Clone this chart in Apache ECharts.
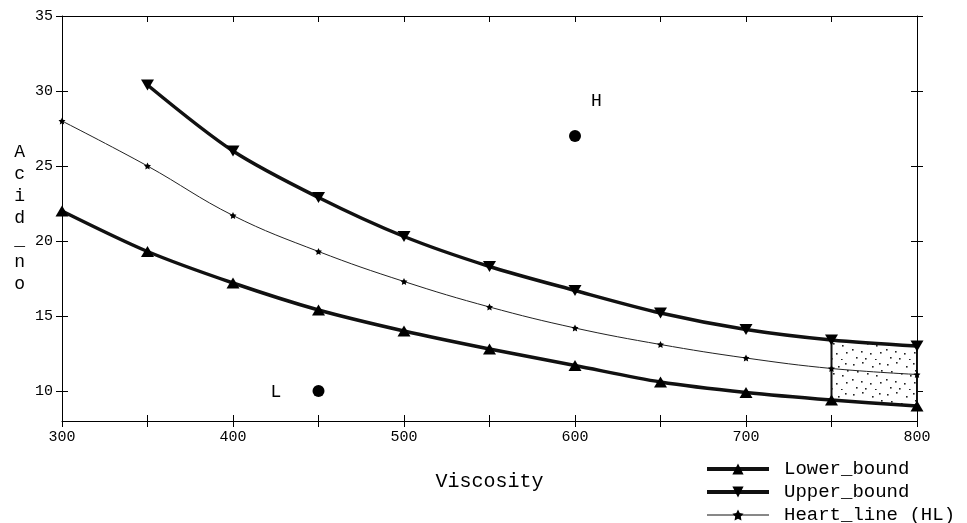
<!DOCTYPE html>
<html>
<head>
<meta charset="utf-8">
<script src="https://cdn.jsdelivr.net/npm/echarts@6/dist/echarts.min.js"></script>
<style>
  html, body { margin: 0; padding: 0; background: #fff; }
  #chart { width: 967px; height: 523px; }
</style>
</head>
<body>
<div id="chart"></div>
<script>
// data
var viscosity = [300, 350, 400, 450, 500, 550, 600, 650, 700, 750, 800];
var lowerBound = [22.0, 19.3, 17.2, 15.4, 14.0, 12.8, 11.7, 10.6, 9.9, 9.4, 9.0];
var upperBound = [null, 30.4, 26.0, 22.9, 20.3, 18.3, 16.7, 15.2, 14.1, 13.4, 13.0];
var heartLine = [28.0, 25.0, 21.7, 19.3, 17.3, 15.6, 14.2, 13.1, 12.2, 11.5, 11.1];

var pointNames = ['L', 'H'];
var pointX = [450, 600];
var pointY = [10, 27];

var boxRange = [750, 800];

var xTicks = [300, 350, 400, 450, 500, 550, 600, 650, 700, 750, 800];
var xLabels = [300, 400, 500, 600, 700, 800];
var yTicks = [10, 15, 20, 25, 30, 35];

var FONT = '"Liberation Mono", "DejaVu Sans Mono", monospace';

// stipple texture for the box
function makeStipple() {
  var c = document.createElement('canvas');
  c.width = 34; c.height = 30;
  var ctx = c.getContext('2d');
  ctx.fillStyle = '#fff';
  ctx.fillRect(0, 0, 34, 30);
  ctx.fillStyle = '#222';
  var dots = [[3, 4], [12, 2], [22, 6], [29, 3], [7, 11], [17, 13], [26, 15], [2, 19],
              [11, 21], [20, 23], [30, 22], [6, 27], [15, 28], [25, 29], [31, 10]];
  dots.forEach(function (d) { ctx.fillRect(d[0], d[1], 1.6, 1.6); });
  return c;
}
var stipple = makeStipple();

var star = 'path://M0,-10L2.9,-4L9.5,-3.1L4.7,1.5L5.9,8.1L0,5L-5.9,8.1L-4.7,1.5L-9.5,-3.1L-2.9,-4Z';

function pairs(ys) {
  return viscosity.map(function (x, i) { return [x, ys[i]]; });
}

var myChart = echarts.init(document.getElementById('chart'));

var gridRect = { left: 62, right: 50, top: 16, bottom: 102 };
var axisLine = { show: true, lineStyle: { color: '#000', width: 1 } };

var option = {
  backgroundColor: '#fff',
  animation: false,
  textStyle: { fontFamily: FONT, color: '#000' },
  grid: [
    Object.assign({}, gridRect),
    Object.assign({}, gridRect)
  ],
  legend: {
    data: [
      { name: 'Lower_bound', lineStyle: { width: 4, color: '#111' } },
      { name: 'Upper_bound', lineStyle: { width: 4, color: '#111' } },
      { name: 'Heart_line (HL)', lineStyle: { width: 1, color: '#111' } }
    ],
    orient: 'vertical',
    left: 705,
    top: 459,
    height: 90,
    padding: 0,
    itemWidth: 62,
    itemHeight: 14,
    itemGap: 3,
    textStyle: { fontFamily: FONT, fontSize: 19, lineHeight: 20, color: '#000', padding: [0, 0, 0, 10] }
  },
  xAxis: [
    {
      type: 'value', gridIndex: 0, position: 'bottom', min: 300, max: 800,
      name: 'Viscosity', nameLocation: 'middle', nameGap: 51,
      nameTextStyle: { fontFamily: FONT, fontSize: 20, color: '#000' },
      axisLine: axisLine,
      axisTick: { show: true, customValues: xTicks, length: 6, lineStyle: { color: '#000' } },
      axisLabel: { customValues: xLabels, fontFamily: FONT, fontSize: 15, color: '#000', margin: 9 },
      splitLine: { show: false }
    },
    {
      type: 'value', gridIndex: 0, position: 'top', min: 300, max: 800,
      axisLine: axisLine,
      axisTick: { show: true, inside: true, customValues: xTicks, length: 6, lineStyle: { color: '#000' } },
      axisLabel: { show: false },
      splitLine: { show: false }
    },
    {
      type: 'value', gridIndex: 1, position: 'bottom', min: 300, max: 800,
      axisLine: { show: false },
      axisTick: { show: true, inside: true, customValues: xTicks, length: 6, lineStyle: { color: '#000' } },
      axisLabel: { show: false },
      splitLine: { show: false }
    }
  ],
  yAxis: [
    {
      type: 'value', gridIndex: 0, position: 'left', min: 8, max: 35,
      name: 'A\nc\ni\nd\n_\nn\no', nameLocation: 'middle', nameRotate: 0, nameGap: 37,
      nameTextStyle: { fontFamily: FONT, fontSize: 18, lineHeight: 22, color: '#000' },
      axisLine: axisLine,
      axisTick: { show: true, customValues: yTicks, length: 6, lineStyle: { color: '#000' } },
      axisLabel: { customValues: yTicks, fontFamily: FONT, fontSize: 15, color: '#000', margin: 9 },
      splitLine: { show: false }
    },
    {
      type: 'value', gridIndex: 0, position: 'right', min: 8, max: 35,
      axisLine: axisLine,
      axisTick: { show: true, customValues: yTicks, length: 6, lineStyle: { color: '#000' } },
      axisLabel: { show: false },
      splitLine: { show: false }
    },
    {
      type: 'value', gridIndex: 1, position: 'left', min: 8, max: 35,
      axisLine: { show: false },
      axisTick: { show: true, inside: true, customValues: yTicks, length: 6, lineStyle: { color: '#000' } },
      axisLabel: { show: false },
      splitLine: { show: false }
    },
    {
      type: 'value', gridIndex: 1, position: 'right', min: 8, max: 35,
      axisLine: { show: false },
      axisTick: { show: true, inside: true, customValues: yTicks, length: 6, lineStyle: { color: '#000' } },
      axisLabel: { show: false },
      splitLine: { show: false }
    }
  ],
  series: [
    {
      name: 'box',
      type: 'custom',
      xAxisIndex: 0, yAxisIndex: 0,
      z: 1,
      silent: true,
      data: [boxRange],
      renderItem: function (params, api) {
        var i0 = viscosity.indexOf(boxRange[0]);
        var i1 = viscosity.indexOf(boxRange[1]);
        var pts = [
          api.coord([boxRange[0], lowerBound[i0]]),
          api.coord([boxRange[1], lowerBound[i1]]),
          api.coord([boxRange[1], upperBound[i1]]),
          api.coord([boxRange[0], upperBound[i0]])
        ];
        return {
          type: 'group',
          children: [
            {
              type: 'polygon',
              shape: { points: pts },
              style: { fill: { image: stipple, repeat: 'repeat' }, stroke: null }
            },
            {
              type: 'line',
              shape: { x1: pts[0][0], y1: pts[0][1], x2: pts[3][0], y2: pts[3][1] },
              style: { stroke: '#111', lineWidth: 2 }
            },
            {
              type: 'line',
              shape: { x1: pts[1][0], y1: pts[1][1], x2: pts[2][0], y2: pts[2][1] },
              style: { stroke: '#111', lineWidth: 2 }
            }
          ]
        };
      }
    },
    {
      name: 'Lower_bound',
      type: 'line',
      xAxisIndex: 0, yAxisIndex: 0,
      z: 3,
      smooth: 0.3,
      data: pairs(lowerBound),
      symbol: 'triangle',
      symbolSize: [13, 11],
      lineStyle: { color: '#111', width: 3.5 },
      itemStyle: { color: '#000' }
    },
    {
      name: 'Upper_bound',
      type: 'line',
      xAxisIndex: 0, yAxisIndex: 0,
      z: 3,
      smooth: 0.3,
      data: pairs(upperBound),
      symbol: 'triangle',
      symbolRotate: 180,
      symbolSize: [13, 11],
      lineStyle: { color: '#111', width: 3.5 },
      itemStyle: { color: '#000' }
    },
    {
      name: 'Heart_line (HL)',
      type: 'line',
      xAxisIndex: 0, yAxisIndex: 0,
      z: 3,
      smooth: 0.4,
      data: pairs(heartLine),
      symbol: star,
      symbolSize: 7,
      lineStyle: { color: '#222', width: 1 },
      itemStyle: { color: '#000' }
    },
    {
      name: 'points',
      type: 'scatter',
      xAxisIndex: 0, yAxisIndex: 0,
      z: 4,
      symbolSize: 12,
      itemStyle: { color: '#000', opacity: 1 },
      data: pointNames.map(function (n, i) {
        return {
          name: n,
          value: [pointX[i], pointY[i]],
          label: {
            show: true,
            formatter: n,
            position: n === 'H' ? [22, -38] : [-42, -2],
            fontFamily: FONT,
            fontSize: 18,
            color: '#000'
          }
        };
      })
    }
  ]
};

myChart.setOption(option);
</script>
</body>
</html>
